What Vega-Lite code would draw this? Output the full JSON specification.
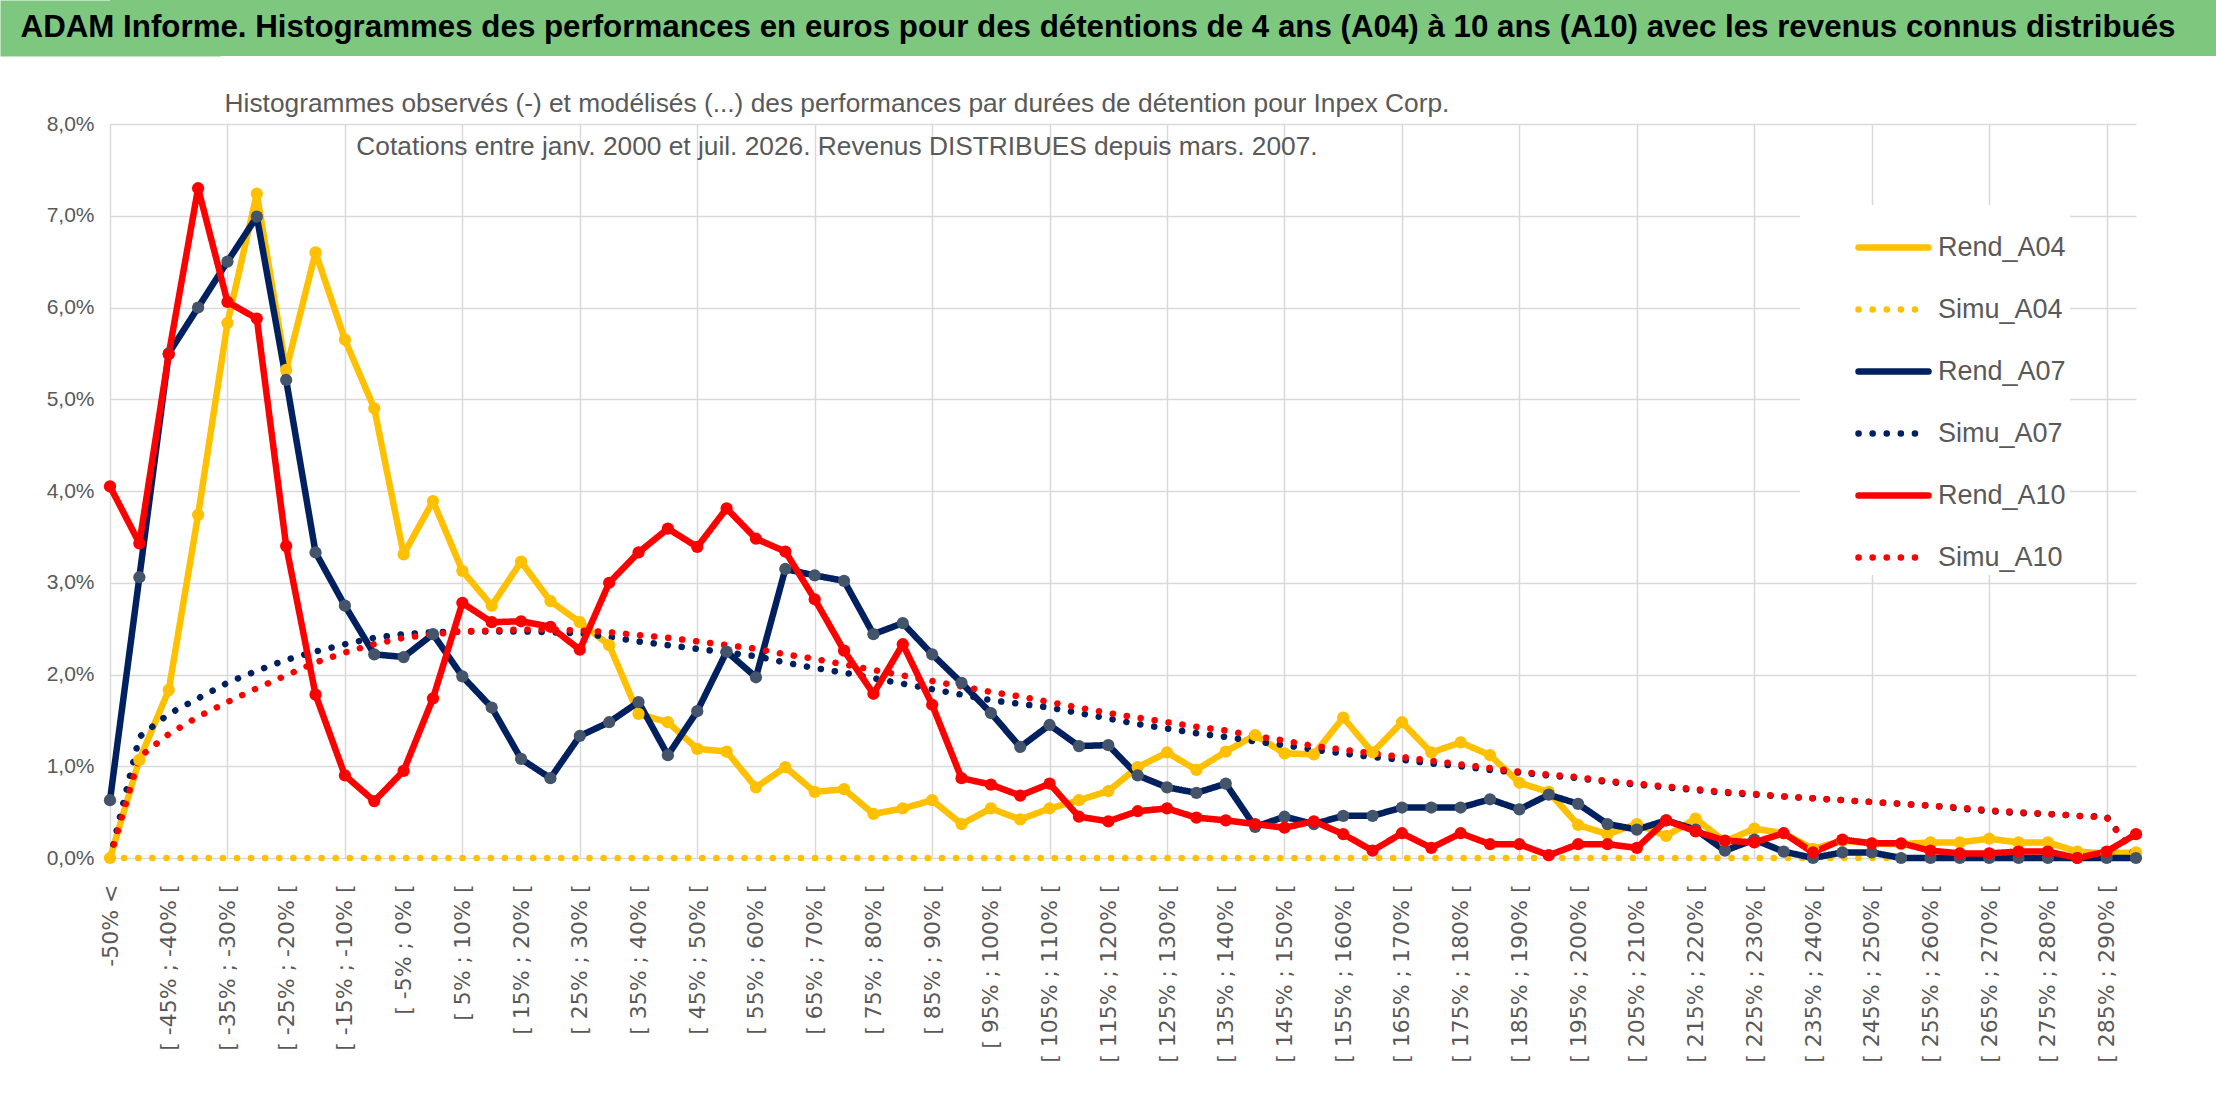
{
  "$schema": "https://vega.github.io/schema/vega-lite/v6.json",
  "padding": 0,
  "background": "white",
  "spacing": 34,
  "config": {"view": {"stroke": null}},
  "vconcat": [
    {
      "width": 2106,
      "height": 56,
      "view": {"fill": "#7ec77f", "stroke": null},
      "data": {"values": [{"t": "ADAM Informe. Histogrammes des performances en euros pour des détentions de 4 ans (A04) à 10 ans (A10) avec les revenus connus distribués"}]},
      "mark": {"type": "text", "font": "Liberation Sans", "fontWeight": "bold", "fontSize": 31.3, "color": "black", "dx": -65},
      "encoding": {
        "text": {"field": "t"},
        "y": {
          "datum": 0,
          "type": "quantitative",
          "scale": {"domain": [-1, 1]},
          "axis": {
            "title": null,
            "labels": false,
            "ticks": false,
            "grid": false,
            "domain": true,
            "domainColor": "#7ec77f",
            "domainWidth": 220,
            "domainCap": "butt",
            "minExtent": 110,
            "zindex": 0
          }
        }
      }
    },
    {
      "width": 2026,
      "height": 734,
      "title": {
        "text": [
          "Histogrammes observés (-) et modélisés (...) des performances par durées de détention pour Inpex Corp.",
          "Cotations entre janv. 2000 et juil. 2026. Revenus DISTRIBUES depuis mars. 2007."
        ],
        "font": "Liberation Sans",
        "fontSize": 26.3,
        "fontWeight": "normal",
        "color": "#595959",
        "lineHeight": 43,
        "anchor": "middle",
        "dx": -286,
        "offset": -47
      },
      "data": {
        "values": [
          {"c": "-50% <", "Rend_A04": 0, "Simu_A04": 0, "Rend_A07": 0.63, "Simu_A07": 0, "Rend_A10": 4.05, "Simu_A10": 0},
          {"c": "[ -50% ; -45% [", "Rend_A04": 1.07, "Simu_A04": 0, "Rend_A07": 3.06, "Simu_A07": 1.32, "Rend_A10": 3.43, "Simu_A10": 1.10},
          {"c": "[ -45% ; -40% [", "Rend_A04": 1.83, "Simu_A04": 0, "Rend_A07": 5.50, "Simu_A07": 1.57, "Rend_A10": 5.49, "Simu_A10": 1.35},
          {"c": "[ -40% ; -35% [", "Rend_A04": 3.74, "Simu_A04": 0, "Rend_A07": 6.00, "Simu_A07": 1.74, "Rend_A10": 7.30, "Simu_A10": 1.54},
          {"c": "[ -35% ; -30% [", "Rend_A04": 5.83, "Simu_A04": 0, "Rend_A07": 6.50, "Simu_A07": 1.91, "Rend_A10": 6.06, "Simu_A10": 1.70},
          {"c": "[ -30% ; -25% [", "Rend_A04": 7.24, "Simu_A04": 0, "Rend_A07": 6.99, "Simu_A07": 2.04, "Rend_A10": 5.88, "Simu_A10": 1.85},
          {"c": "[ -25% ; -20% [", "Rend_A04": 5.32, "Simu_A04": 0, "Rend_A07": 5.21, "Simu_A07": 2.16, "Rend_A10": 3.40, "Simu_A10": 1.99},
          {"c": "[ -20% ; -15% [", "Rend_A04": 6.60, "Simu_A04": 0, "Rend_A07": 3.33, "Simu_A07": 2.25, "Rend_A10": 1.78, "Simu_A10": 2.13},
          {"c": "[ -15% ; -10% [", "Rend_A04": 5.65, "Simu_A04": 0, "Rend_A07": 2.75, "Simu_A07": 2.33, "Rend_A10": 0.90, "Simu_A10": 2.24},
          {"c": "[ -10% ; -5% [", "Rend_A04": 4.90, "Simu_A04": 0, "Rend_A07": 2.22, "Simu_A07": 2.40, "Rend_A10": 0.62, "Simu_A10": 2.33},
          {"c": "[ -5% ; 0% [", "Rend_A04": 3.31, "Simu_A04": 0, "Rend_A07": 2.19, "Simu_A07": 2.44, "Rend_A10": 0.95, "Simu_A10": 2.40},
          {"c": "[ 0% ; 5% [", "Rend_A04": 3.89, "Simu_A04": 0, "Rend_A07": 2.44, "Simu_A07": 2.46, "Rend_A10": 1.74, "Simu_A10": 2.44},
          {"c": "[ 5% ; 10% [", "Rend_A04": 3.13, "Simu_A04": 0, "Rend_A07": 1.98, "Simu_A07": 2.47, "Rend_A10": 2.78, "Simu_A10": 2.47},
          {"c": "[ 10% ; 15% [", "Rend_A04": 2.75, "Simu_A04": 0, "Rend_A07": 1.64, "Simu_A07": 2.47, "Rend_A10": 2.57, "Simu_A10": 2.48},
          {"c": "[ 15% ; 20% [", "Rend_A04": 3.23, "Simu_A04": 0, "Rend_A07": 1.08, "Simu_A07": 2.47, "Rend_A10": 2.58, "Simu_A10": 2.49},
          {"c": "[ 20% ; 25% [", "Rend_A04": 2.80, "Simu_A04": 0, "Rend_A07": 0.87, "Simu_A07": 2.46, "Rend_A10": 2.52, "Simu_A10": 2.49},
          {"c": "[ 25% ; 30% [", "Rend_A04": 2.57, "Simu_A04": 0, "Rend_A07": 1.33, "Simu_A07": 2.45, "Rend_A10": 2.27, "Simu_A10": 2.48},
          {"c": "[ 30% ; 35% [", "Rend_A04": 2.32, "Simu_A04": 0, "Rend_A07": 1.48, "Simu_A07": 2.41, "Rend_A10": 3.00, "Simu_A10": 2.46},
          {"c": "[ 35% ; 40% [", "Rend_A04": 1.57, "Simu_A04": 0, "Rend_A07": 1.70, "Simu_A07": 2.36, "Rend_A10": 3.33, "Simu_A10": 2.43},
          {"c": "[ 40% ; 45% [", "Rend_A04": 1.48, "Simu_A04": 0, "Rend_A07": 1.12, "Simu_A07": 2.32, "Rend_A10": 3.59, "Simu_A10": 2.40},
          {"c": "[ 45% ; 50% [", "Rend_A04": 1.19, "Simu_A04": 0, "Rend_A07": 1.60, "Simu_A07": 2.28, "Rend_A10": 3.39, "Simu_A10": 2.36},
          {"c": "[ 50% ; 55% [", "Rend_A04": 1.16, "Simu_A04": 0, "Rend_A07": 2.25, "Simu_A07": 2.24, "Rend_A10": 3.81, "Simu_A10": 2.32},
          {"c": "[ 55% ; 60% [", "Rend_A04": 0.77, "Simu_A04": 0, "Rend_A07": 1.97, "Simu_A07": 2.20, "Rend_A10": 3.48, "Simu_A10": 2.28},
          {"c": "[ 60% ; 65% [", "Rend_A04": 0.99, "Simu_A04": 0, "Rend_A07": 3.15, "Simu_A07": 2.13, "Rend_A10": 3.34, "Simu_A10": 2.22},
          {"c": "[ 65% ; 70% [", "Rend_A04": 0.72, "Simu_A04": 0, "Rend_A07": 3.08, "Simu_A07": 2.07, "Rend_A10": 2.82, "Simu_A10": 2.17},
          {"c": "[ 70% ; 75% [", "Rend_A04": 0.75, "Simu_A04": 0, "Rend_A07": 3.02, "Simu_A07": 2.02, "Rend_A10": 2.26, "Simu_A10": 2.11},
          {"c": "[ 75% ; 80% [", "Rend_A04": 0.48, "Simu_A04": 0, "Rend_A07": 2.44, "Simu_A07": 1.96, "Rend_A10": 1.79, "Simu_A10": 2.05},
          {"c": "[ 80% ; 85% [", "Rend_A04": 0.54, "Simu_A04": 0, "Rend_A07": 2.56, "Simu_A07": 1.90, "Rend_A10": 2.33, "Simu_A10": 1.99},
          {"c": "[ 85% ; 90% [", "Rend_A04": 0.63, "Simu_A04": 0, "Rend_A07": 2.22, "Simu_A07": 1.84, "Rend_A10": 1.67, "Simu_A10": 1.93},
          {"c": "[ 90% ; 95% [", "Rend_A04": 0.37, "Simu_A04": 0, "Rend_A07": 1.91, "Simu_A07": 1.78, "Rend_A10": 0.87, "Simu_A10": 1.87},
          {"c": "[ 95% ; 100% [", "Rend_A04": 0.54, "Simu_A04": 0, "Rend_A07": 1.58, "Simu_A07": 1.72, "Rend_A10": 0.80, "Simu_A10": 1.81},
          {"c": "[ 100% ; 105% [", "Rend_A04": 0.42, "Simu_A04": 0, "Rend_A07": 1.21, "Simu_A07": 1.68, "Rend_A10": 0.68, "Simu_A10": 1.76},
          {"c": "[ 105% ; 110% [", "Rend_A04": 0.54, "Simu_A04": 0, "Rend_A07": 1.45, "Simu_A07": 1.64, "Rend_A10": 0.81, "Simu_A10": 1.70},
          {"c": "[ 110% ; 115% [", "Rend_A04": 0.63, "Simu_A04": 0, "Rend_A07": 1.22, "Simu_A07": 1.58, "Rend_A10": 0.45, "Simu_A10": 1.64},
          {"c": "[ 115% ; 120% [", "Rend_A04": 0.73, "Simu_A04": 0, "Rend_A07": 1.23, "Simu_A07": 1.52, "Rend_A10": 0.40, "Simu_A10": 1.58},
          {"c": "[ 120% ; 125% [", "Rend_A04": 0.99, "Simu_A04": 0, "Rend_A07": 0.90, "Simu_A07": 1.46, "Rend_A10": 0.51, "Simu_A10": 1.53},
          {"c": "[ 125% ; 130% [", "Rend_A04": 1.15, "Simu_A04": 0, "Rend_A07": 0.77, "Simu_A07": 1.41, "Rend_A10": 0.54, "Simu_A10": 1.48},
          {"c": "[ 130% ; 135% [", "Rend_A04": 0.96, "Simu_A04": 0, "Rend_A07": 0.71, "Simu_A07": 1.36, "Rend_A10": 0.44, "Simu_A10": 1.43},
          {"c": "[ 135% ; 140% [", "Rend_A04": 1.16, "Simu_A04": 0, "Rend_A07": 0.81, "Simu_A07": 1.32, "Rend_A10": 0.41, "Simu_A10": 1.39},
          {"c": "[ 140% ; 145% [", "Rend_A04": 1.34, "Simu_A04": 0, "Rend_A07": 0.34, "Simu_A07": 1.27, "Rend_A10": 0.37, "Simu_A10": 1.33},
          {"c": "[ 145% ; 150% [", "Rend_A04": 1.14, "Simu_A04": 0, "Rend_A07": 0.45, "Simu_A07": 1.23, "Rend_A10": 0.33, "Simu_A10": 1.28},
          {"c": "[ 150% ; 155% [", "Rend_A04": 1.13, "Simu_A04": 0, "Rend_A07": 0.37, "Simu_A07": 1.18, "Rend_A10": 0.40, "Simu_A10": 1.22},
          {"c": "[ 155% ; 160% [", "Rend_A04": 1.53, "Simu_A04": 0, "Rend_A07": 0.46, "Simu_A07": 1.14, "Rend_A10": 0.26, "Simu_A10": 1.18},
          {"c": "[ 160% ; 165% [", "Rend_A04": 1.15, "Simu_A04": 0, "Rend_A07": 0.46, "Simu_A07": 1.10, "Rend_A10": 0.08, "Simu_A10": 1.14},
          {"c": "[ 165% ; 170% [", "Rend_A04": 1.48, "Simu_A04": 0, "Rend_A07": 0.55, "Simu_A07": 1.07, "Rend_A10": 0.27, "Simu_A10": 1.10},
          {"c": "[ 170% ; 175% [", "Rend_A04": 1.15, "Simu_A04": 0, "Rend_A07": 0.55, "Simu_A07": 1.03, "Rend_A10": 0.11, "Simu_A10": 1.06},
          {"c": "[ 175% ; 180% [", "Rend_A04": 1.26, "Simu_A04": 0, "Rend_A07": 0.55, "Simu_A07": 1.00, "Rend_A10": 0.27, "Simu_A10": 1.02},
          {"c": "[ 180% ; 185% [", "Rend_A04": 1.12, "Simu_A04": 0, "Rend_A07": 0.64, "Simu_A07": 0.96, "Rend_A10": 0.15, "Simu_A10": 0.98},
          {"c": "[ 185% ; 190% [", "Rend_A04": 0.82, "Simu_A04": 0, "Rend_A07": 0.53, "Simu_A07": 0.93, "Rend_A10": 0.15, "Simu_A10": 0.94},
          {"c": "[ 190% ; 195% [", "Rend_A04": 0.72, "Simu_A04": 0, "Rend_A07": 0.69, "Simu_A07": 0.90, "Rend_A10": 0.03, "Simu_A10": 0.91},
          {"c": "[ 195% ; 200% [", "Rend_A04": 0.36, "Simu_A04": 0, "Rend_A07": 0.59, "Simu_A07": 0.87, "Rend_A10": 0.15, "Simu_A10": 0.88},
          {"c": "[ 200% ; 205% [", "Rend_A04": 0.26, "Simu_A04": 0, "Rend_A07": 0.37, "Simu_A07": 0.83, "Rend_A10": 0.15, "Simu_A10": 0.84},
          {"c": "[ 205% ; 210% [", "Rend_A04": 0.37, "Simu_A04": 0, "Rend_A07": 0.31, "Simu_A07": 0.80, "Rend_A10": 0.11, "Simu_A10": 0.81},
          {"c": "[ 210% ; 215% [", "Rend_A04": 0.24, "Simu_A04": 0, "Rend_A07": 0.41, "Simu_A07": 0.77, "Rend_A10": 0.41, "Simu_A10": 0.78},
          {"c": "[ 215% ; 220% [", "Rend_A04": 0.43, "Simu_A04": 0, "Rend_A07": 0.31, "Simu_A07": 0.74, "Rend_A10": 0.29, "Simu_A10": 0.75},
          {"c": "[ 220% ; 225% [", "Rend_A04": 0.18, "Simu_A04": 0, "Rend_A07": 0.08, "Simu_A07": 0.71, "Rend_A10": 0.19, "Simu_A10": 0.72},
          {"c": "[ 225% ; 230% [", "Rend_A04": 0.32, "Simu_A04": 0, "Rend_A07": 0.20, "Simu_A07": 0.69, "Rend_A10": 0.17, "Simu_A10": 0.70},
          {"c": "[ 230% ; 235% [", "Rend_A04": 0.27, "Simu_A04": 0, "Rend_A07": 0.07, "Simu_A07": 0.67, "Rend_A10": 0.27, "Simu_A10": 0.67},
          {"c": "[ 235% ; 240% [", "Rend_A04": 0.10, "Simu_A04": 0, "Rend_A07": 0.00, "Simu_A07": 0.65, "Rend_A10": 0.06, "Simu_A10": 0.65},
          {"c": "[ 240% ; 245% [", "Rend_A04": 0.19, "Simu_A04": 0, "Rend_A07": 0.06, "Simu_A07": 0.63, "Rend_A10": 0.20, "Simu_A10": 0.63},
          {"c": "[ 245% ; 250% [", "Rend_A04": 0.16, "Simu_A04": 0, "Rend_A07": 0.06, "Simu_A07": 0.61, "Rend_A10": 0.16, "Simu_A10": 0.61},
          {"c": "[ 250% ; 255% [", "Rend_A04": 0.15, "Simu_A04": 0, "Rend_A07": 0.00, "Simu_A07": 0.59, "Rend_A10": 0.16, "Simu_A10": 0.59},
          {"c": "[ 255% ; 260% [", "Rend_A04": 0.17, "Simu_A04": 0, "Rend_A07": 0.00, "Simu_A07": 0.57, "Rend_A10": 0.08, "Simu_A10": 0.57},
          {"c": "[ 260% ; 265% [", "Rend_A04": 0.17, "Simu_A04": 0, "Rend_A07": 0.00, "Simu_A07": 0.54, "Rend_A10": 0.05, "Simu_A10": 0.55},
          {"c": "[ 265% ; 270% [", "Rend_A04": 0.21, "Simu_A04": 0, "Rend_A07": 0.00, "Simu_A07": 0.51, "Rend_A10": 0.05, "Simu_A10": 0.52},
          {"c": "[ 270% ; 275% [", "Rend_A04": 0.17, "Simu_A04": 0, "Rend_A07": 0.00, "Simu_A07": 0.49, "Rend_A10": 0.07, "Simu_A10": 0.50},
          {"c": "[ 275% ; 280% [", "Rend_A04": 0.17, "Simu_A04": 0, "Rend_A07": 0.00, "Simu_A07": 0.48, "Rend_A10": 0.07, "Simu_A10": 0.48},
          {"c": "[ 280% ; 285% [", "Rend_A04": 0.07, "Simu_A04": 0, "Rend_A07": 0.00, "Simu_A07": 0.46, "Rend_A10": 0.00, "Simu_A10": 0.46},
          {"c": "[ 285% ; 290% [", "Rend_A04": 0.05, "Simu_A04": 0, "Rend_A07": 0.00, "Simu_A07": 0.45, "Rend_A10": 0.07, "Simu_A10": 0.44},
          {"c": "[ 290% ; 295% [", "Rend_A04": 0.06, "Simu_A04": 0, "Rend_A07": 0.00, "Simu_A07": 0.02, "Rend_A10": 0.26, "Simu_A10": 0.02}
        ]
      },
      "transform": [
        {"fold": ["Rend_A04", "Simu_A04", "Rend_A07", "Simu_A07", "Rend_A10", "Simu_A10"], "as": ["serie", "v"]}
      ],
      "encoding": {
        "x": {
          "field": "c",
          "type": "nominal",
          "sort": null,
          "scale": {"type": "point", "padding": 0},
          "axis": {
            "title": null,
            "labelAngle": 270,
            "labelFont": "DejaVu Sans",
            "labelFontSize": 22,
            "labelColor": "#595959",
            "labelPadding": 26,
            "labelOverlap": false,
            "labelLimit": 400,
            "labelExpr": "datum.value == '-50% <' || (parseInt(slice(datum.value, 2)) + 55) % 10 == 0 ? datum.value : ''",
            "ticks": false,
            "domain": false,
            "grid": true,
            "gridColor": "#d9d9d9",
            "gridWidth": 1.5,
            "gridOpacity": {
              "condition": {"test": "datum.value == '-50% <' || (parseInt(slice(datum.value, 2)) + 55) % 20 == 0", "value": 1},
              "value": 0
            }
          }
        },
        "y": {
          "field": "v",
          "type": "quantitative",
          "scale": {"domain": [0, 8], "nice": false},
          "axis": {
            "title": null,
            "values": [0, 1, 2, 3, 4, 5, 6, 7, 8],
            "labelExpr": "replace(format(datum.value, '.1f'), '.', ',') + '%'",
            "labelFont": "Liberation Sans",
            "labelFontSize": 21,
            "labelColor": "#595959",
            "labelPadding": 16,
            "ticks": false,
            "domain": false,
            "gridColor": "#d9d9d9",
            "gridWidth": 1.5,
            "minExtent": 110
          }
        }
      },
      "layer": [
        {
          "mark": {"type": "line", "strokeWidth": 6.5, "strokeCap": "round", "strokeJoin": "round"},
          "encoding": {
            "color": {
              "field": "serie",
              "type": "nominal",
              "scale": {
                "domain": ["Rend_A04", "Simu_A04", "Rend_A07", "Simu_A07", "Rend_A10", "Simu_A10"],
                "range": ["#ffc000", "#ffc000", "#002060", "#002060", "#ff0000", "#ff0000"]
              },
              "legend": {
                "title": null,
                "orient": "none",
                "legendX": 1690,
                "legendY": 205,
                "direction": "vertical",
                "symbolType": "stroke",
                "symbolSize": 4900,
                "symbolStrokeWidth": 6.5,
                "symbolOffset": 51,
                "labelFont": "Liberation Sans",
                "labelFontSize": 27,
                "labelColor": "#595959",
                "labelOffset": 6,
                "rowPadding": 10,
                "padding": 4,
                "fillColor": "white",
                "encode": {"symbols": {"update": {"strokeCap": {"value": "round"}}}}
              }
            },
            "strokeDash": {
              "field": "serie",
              "type": "nominal",
              "scale": {
                "domain": ["Rend_A04", "Simu_A04", "Rend_A07", "Simu_A07", "Rend_A10", "Simu_A10"],
                "range": [[1, 0], [0.1, 14], [1, 0], [0.1, 14], [1, 0], [0.1, 14]]
              },
              "legend": {
                "title": null,
                "orient": "none",
                "legendX": 1690,
                "legendY": 205,
                "direction": "vertical",
                "symbolType": "stroke",
                "symbolSize": 4900,
                "symbolStrokeWidth": 6.5,
                "symbolOffset": 51,
                "labelFont": "Liberation Sans",
                "labelFontSize": 27,
                "labelColor": "#595959",
                "labelOffset": 6,
                "rowPadding": 10,
                "padding": 4,
                "fillColor": "white",
                "encode": {"symbols": {"update": {"strokeCap": {"value": "round"}}}}
              }
            }
          }
        },
        {
          "transform": [{"filter": "indexof(datum.serie, 'Rend') == 0"}],
          "mark": {"type": "point", "filled": true, "size": 150, "opacity": 1, "strokeWidth": 0},
          "encoding": {
            "fill": {
              "field": "serie",
              "type": "nominal",
              "scale": {"domain": ["Rend_A04", "Rend_A07", "Rend_A10"], "range": ["#ffc000", "#44546a", "#ff0000"]},
              "legend": null
            }
          }
        }
      ]
    }
  ]
}
